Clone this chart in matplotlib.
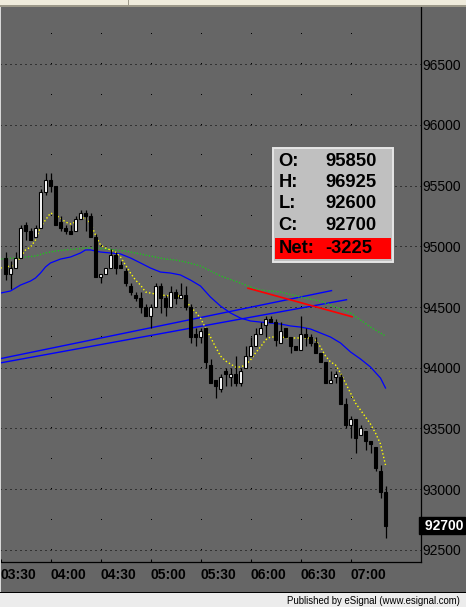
import matplotlib
matplotlib.use('Agg')
import matplotlib.pyplot as plt
import matplotlib.transforms as mtransforms
from matplotlib.patches import Rectangle
import numpy as np

plt.rcParams['font.family'] = ['Liberation Sans', 'DejaVu Sans']
plt.rcParams['lines.scale_dashes'] = False

# ---------------- data ----------------
bars = list(range(1, 78))
opens = [94900, 94775, 94825, 94900, 95175, 95125, 95075, 95150, 95450, 95550,
         95500, 95200, 95150, 95125, 95125, 95225, 95275, 95250, 95075, 94750,
         94775, 94825, 94925, 94850, 94800, 94675, 94600, 94575, 94500, 94425,
         94500, 94675, 94575, 94500, 94625, 94575, 94600, 94500, 94275, 94250,
         94325, 94025, 93900, 93825, 93975, 93925, 93950, 93875, 94000, 94100,
         94175, 94275, 94350, 94400, 94375, 94200, 94325, 94250, 94175, 94150,
         94275, 94250, 94200, 94125, 94050, 93875, 93925, 93925, 93700, 93525,
         93575, 93450, 93475, 93400, 93350, 93150, 92975]
highs = [94950, 94875, 94950, 95175, 95200, 95150, 95175, 95475, 95600, 95600,
         95500, 95250, 95175, 95175, 95250, 95300, 95300, 95275, 95100, 94775,
         94825, 94975, 94950, 94875, 94825, 94700, 94625, 94625, 94525, 94525,
         94700, 94700, 94600, 94675, 94650, 94700, 94675, 94525, 94325, 94325,
         94325, 94075, 93900, 93950, 94000, 94000, 94100, 94000, 94175, 94250,
         94325, 94375, 94425, 94425, 94400, 94375, 94325, 94250, 94175, 94425,
         94325, 94275, 94250, 94125, 94050, 93975, 93975, 93950, 93750, 93600,
         93575, 93525, 93475, 93400, 93350, 93200, 93025]
lows = [94725, 94650, 94825, 94900, 95050, 95050, 95075, 95150, 95425, 95450,
        95175, 95125, 95100, 95100, 95125, 95225, 95125, 95075, 94750, 94700,
        94775, 94825, 94775, 94825, 94675, 94600, 94550, 94450, 94425, 94325,
        94500, 94450, 94425, 94500, 94525, 94575, 94475, 94200, 94175, 94200,
        94000, 93875, 93750, 93800, 93850, 93850, 93850, 93850, 94000, 94100,
        94175, 94275, 94250, 94375, 94175, 94200, 94250, 94125, 94150, 94150,
        94175, 94175, 94125, 94050, 93875, 93875, 93875, 93700, 93500, 93425,
        93300, 93450, 93325, 93300, 93150, 92925, 92600]
closes = [94775, 94825, 94900, 95150, 95125, 95050, 95150, 95450, 95550, 95500,
          95175, 95150, 95125, 95100, 95225, 95275, 95250, 95075, 94750, 94775,
          94825, 94925, 94825, 94825, 94700, 94625, 94575, 94500, 94425, 94500,
          94675, 94575, 94500, 94625, 94575, 94600, 94500, 94250, 94250, 94300,
          94050, 93875, 93850, 93925, 93950, 93950, 93875, 93975, 94100, 94175,
          94275, 94325, 94400, 94375, 94225, 94300, 94250, 94175, 94150, 94275,
          94250, 94200, 94125, 94050, 93875, 93900, 93950, 93700, 93525, 93575,
          93425, 93500, 93400, 93375, 93175, 92975, 92700]

# moving averages (bar index, price)
fast_ma_x = [0, 1, 2, 3, 4, 5, 6, 7, 8, 9, 10, 11, 12, 13, 14, 15, 16, 17, 18, 19,
             20, 21, 22, 23, 24, 25, 26, 27, 28, 29, 30, 32, 34, 36, 37, 38, 39, 40,
             41, 42, 43, 44, 45, 46, 47, 48, 49, 50, 51, 52, 53, 54, 56, 58, 60, 62,
             63, 64, 65, 66, 67, 68, 69, 70, 71, 72, 73, 74, 75, 76, 77]
fast_ma_y = [94821, 94830, 94838, 94846, 94912, 94970, 94994, 95052, 95159, 95217,
             95274, 95258, 95233, 95200, 95184, 95200, 95233, 95233, 95192, 95093,
             95011, 94986, 94970, 94953, 94912, 94846, 94780, 94722, 94681, 94624,
             94615, 94599, 94591, 94591, 94558, 94500, 94459, 94409,
             94327, 94253, 94171, 94097, 94056, 94031, 94006, 94006, 94023, 94064,
             94122, 94171, 94229, 94253, 94253, 94245, 94245, 94245,
             94229, 94171, 94097, 94048, 94023, 93957, 93874, 93792, 93709, 93652,
             93594, 93536, 93462, 93372, 93199]
mid_ma_x = [0, 2, 4, 6, 7, 8, 9, 10, 12, 14, 16, 17, 18, 20, 22, 24, 26, 28, 30,
            32, 34, 36, 38, 40, 42, 44, 46, 48, 50, 52, 54, 56, 58, 60, 62, 64, 66,
            68, 70, 72, 74, 76, 77]
mid_ma_y = [94615, 94632, 94681, 94714, 94739, 94780, 94830, 94863, 94895, 94912,
            94945, 94970, 94970, 94953, 94945, 94937, 94904, 94863, 94821, 94788,
            94780, 94764, 94722, 94673, 94582, 94508, 94451, 94409, 94385, 94376,
            94368, 94360, 94344, 94335, 94319, 94286, 94253, 94204, 94130, 94072,
            94006, 93915, 93833]
slow_ma_x = [0, 3, 5, 7, 9, 11, 13, 15, 17, 19, 21, 23, 25, 27, 29, 31, 33, 35, 37,
             40, 44, 48, 50, 52, 56, 60, 64, 68, 70, 72, 74, 76, 77]
slow_ma_y = [94895, 94904, 94912, 94920, 94945, 94961, 94970, 94978, 94986, 94986,
             94978, 94970, 94961, 94945, 94928, 94912, 94895, 94887, 94871, 94838,
             94756, 94698, 94665, 94640, 94624, 94582, 94549, 94483, 94451, 94393,
             94335, 94286, 94261]

# drawn trend lines (bar index, price)
trend1_x = [0, 66.2]
trend1_y = [94075, 94635]
trend2_x = [0, 69.2]
trend2_y = [94040, 94560]
red_x = [49.5, 70.3]
red_y = [94655, 94420]

time_ticks = [0, 10, 20, 30, 40, 50, 60, 70]
time_labels = ['03:30', '04:00', '04:30', '05:00', '05:30', '06:00', '06:30', '07:00']
price_ticks = [92500, 93000, 93500, 94000, 94500, 95000, 95500, 96000, 96500]
last_price = 92700
info_labels = ['O:', 'H:', 'L:', 'C:', 'Net:']
info_values = ['95850', '96925', '92600', '92700', '-3225']

# ---------------- figure ----------------
W, H = 466, 607
BG = '#666666'
fig = plt.figure(figsize=(W / 100, H / 100), dpi=100, facecolor=BG)

ax_l, ax_r, ax_t, ax_b = 0, 421, 7, 562
ax = fig.add_axes([ax_l / W, 1 - ax_b / H, (ax_r - ax_l) / W, (ax_b - ax_t) / H])
ax.set_facecolor(BG)
ax.set_xlim(-0.1, 84.1)
ax.set_ylim(92400, 96971)

# grid
for p in price_ticks:
    ax.axhline(p, color='black', lw=0.72, linestyle=(0, (0.72, 2.88)), zorder=1)
vgrid_prices = np.arange(92500, 97000, 250)
gx, gy = np.meshgrid(time_ticks[1:], vgrid_prices)
ax.plot(gx.ravel(), gy.ravel(), linestyle='none', marker=',', color='black', zorder=1)

# trend lines
ax.plot(trend1_x, trend1_y, color='#0000ff', lw=1.0, zorder=2)
ax.plot(trend2_x, trend2_y, color='#0000ff', lw=1.0, zorder=2)

# moving averages
ax.plot(slow_ma_x, slow_ma_y, color='#22c022', lw=1.0, linestyle=(0, (1.0, 1.2)), zorder=2)
ax.plot(red_x, red_y, color='#ff0000', lw=1.2, zorder=2.5)
ax.plot(mid_ma_x, mid_ma_y, color='#0000ff', lw=0.9, zorder=2)
ax.plot(fast_ma_x, fast_ma_y, color='#ffff00', lw=1.0, linestyle=(0, (1.0, 1.6)), zorder=2)

# candles
o = np.array(opens); c = np.array(closes); h = np.array(highs); l = np.array(lows)
xb = np.array(bars)
ax.vlines(xb, l, h, color='black', lw=0.9, zorder=3)
up = c >= o
bottoms = np.minimum(o, c)
heights = np.maximum(np.abs(c - o), 10)
ax.bar(xb[up], heights[up], bottom=bottoms[up], width=0.62, color='white',
       edgecolor='black', linewidth=0.8, zorder=4)
ax.bar(xb[~up], heights[~up], bottom=bottoms[~up], width=0.62, color='black',
       edgecolor='black', linewidth=0.8, zorder=4)

# axes styling
for s in ['top', 'left']:
    ax.spines[s].set_visible(False)
for s in ['bottom', 'right']:
    ax.spines[s].set_color('black')
    ax.spines[s].set_linewidth(0.9)
ax.set_xticks(time_ticks)
ax.set_xticklabels(time_labels, fontsize=10, fontweight='bold')
for t in ax.get_xticklabels():
    t.set_ha('left')
ax.tick_params(axis='x', direction='in', length=2, width=0.8, color='black', pad=4)
ax.yaxis.tick_right()
ax.set_yticks(price_ticks)
ax.set_yticklabels([str(p) for p in price_ticks], fontsize=10)
ax.tick_params(axis='y', length=0, pad=1)

# last price marker
trans = mtransforms.blended_transform_factory(ax.transAxes, ax.transData)
ax.text(1.0, last_price, ' ' + str(last_price), transform=trans, ha='left', va='center',
        fontsize=10, fontweight='bold', color='white', clip_on=False, zorder=10,
        bbox=dict(boxstyle='square,pad=0.12', fc='black', ec='black'))

# ---------------- overlay decorations (pixel coordinates) ----------------
ov = fig.add_axes([0, 0, 1, 1], zorder=10)
ov.set_xlim(0, W)
ov.set_ylim(H, 0)
ov.axis('off')
ov.patch.set_alpha(0)

# top strip
ov.add_patch(Rectangle((0, 0), W, 5, fc='#efebdc', ec='none'))
ov.add_patch(Rectangle((0, 5), W, 2, fc='#9d998a', ec='none'))
ov.add_patch(Rectangle((128, 0), 1, 5, fc='#9d998a', ec='none'))
# left light edge
ov.add_patch(Rectangle((0, 7), 1.2, 585, fc='#d8d8d8', ec='none'))
# status bar
ov.add_patch(Rectangle((0, 592), W, 1.2, fc='black', ec='none'))
ov.add_patch(Rectangle((0, 593.2), W, 13.8, fc='#ececec', ec='none'))
ov.text(460, 600.5, 'Published by eSignal (www.esignal.com)', ha='right', va='center',
        fontsize=6.9, color='black')

# info box
ov.add_patch(Rectangle((272.7, 148.3), 120, 113.4, fc='#c0c0c0', ec='#e6e6e6', lw=1.4))
ov.add_patch(Rectangle((274.5, 238.3), 116.2, 21, fc='#ff0000', ec='none'))
row_y = [161.7, 182.7, 204.0, 225.5, 248.3]
for lab, val, yy in zip(info_labels, info_values, row_y):
    ov.text(278.3, yy, lab, ha='left', va='center', fontsize=13.2, fontweight='bold', color='black')
    ov.text(325, yy, val, ha='left', va='center', fontsize=13.2, fontweight='bold', color='black')

fig.savefig('out.png', dpi=100, facecolor=BG)
